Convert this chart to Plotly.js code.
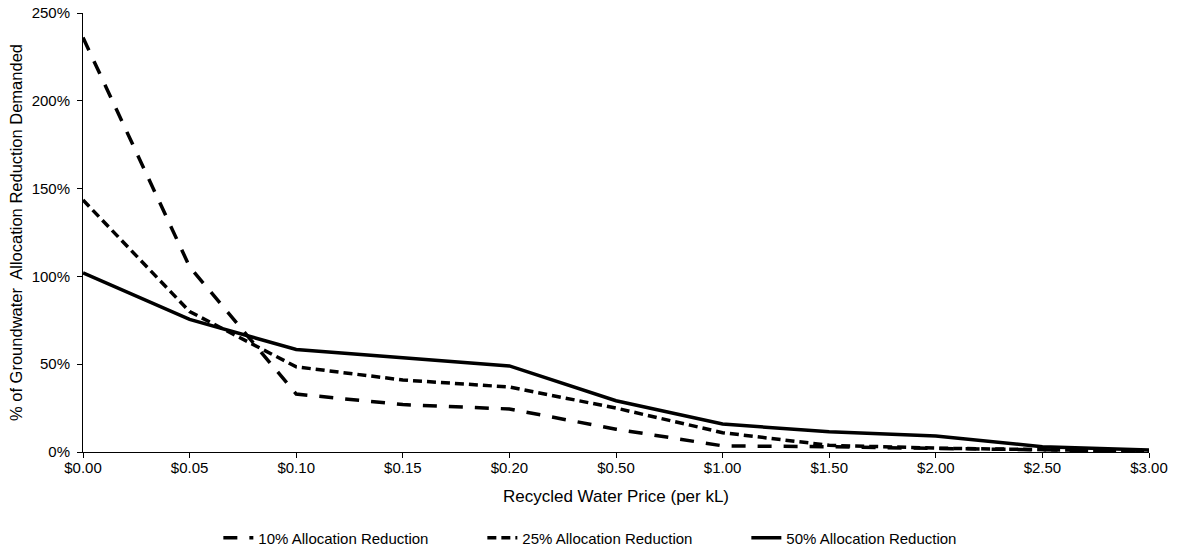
<!DOCTYPE html>
<html>
<head>
<meta charset="utf-8">
<script src="https://cdn.plot.ly/plotly-3.0.1.min.js"></script>
<style>html,body{margin:0;padding:0;background:#fff;}#chart{width:1186px;height:554px;}</style>
</head>
<body>
<div id="chart"></div>
<script>
const prices = ["$0.00","$0.05","$0.10","$0.15","$0.20","$0.50","$1.00","$1.50","$2.00","$2.50","$3.00"];
const red10 = [2.36, 1.055, 0.33, 0.27, 0.245, 0.13, 0.035, 0.03, 0.02, 0.012, 0.005];
const red25 = [1.435, 0.80, 0.485, 0.41, 0.37, 0.25, 0.11, 0.038, 0.022, 0.012, 0.005];
const red50 = [1.02, 0.755, 0.584, 0.535, 0.49, 0.292, 0.159, 0.115, 0.091, 0.03, 0.012];
const names = ["10% Allocation Reduction","25% Allocation Reduction","50% Allocation Reduction"];

const traces = [
  {x: prices, y: red10, name: names[0], type: "scatter", mode: "lines",
   line: {color: "#000", width: 3.5, dash: "14px,12px"}},
  {x: prices, y: red25, name: names[1], type: "scatter", mode: "lines",
   line: {color: "#000", width: 3.5, dash: "9px,5px"}},
  {x: prices, y: red50, name: names[2], type: "scatter", mode: "lines",
   line: {color: "#000", width: 3.5}}
];

const layout = {
  width: 1186, height: 554,
  margin: {l: 83, r: 37, t: 13, b: 102},
  paper_bgcolor: "#fff", plot_bgcolor: "#fff",
  font: {family: "Liberation Sans, Arial, sans-serif", size: 15, color: "#000"},
  showlegend: true,
  legend: {orientation: "h", xref: "container", yref: "container",
           x: 0.518, xanchor: "center", y: 0.029, yanchor: "middle",
           font: {size: 15}, entrywidth: 219, traceorder: "normal"},
  xaxis: {type: "category", range: [0, 10], showgrid: false, zeroline: false, automargin: false,
          showline: true, linecolor: "#000", linewidth: 1,
          ticks: "outside", ticklen: 5, tickcolor: "#000",
          tickfont: {size: 15}, ticklabelstandoff: -3,
          title: {text: "Recycled Water Price (per kL)", font: {size: 17}, standoff: 15}},
  yaxis: {range: [0, 2.5], dtick: 0.5, tickformat: ".0%", showgrid: false, zeroline: false, automargin: false,
          showline: true, linecolor: "#000", linewidth: 1,
          ticks: "outside", ticklen: 5, tickcolor: "#000",
          tickfont: {size: 15}, ticklabelstandoff: 4,
          title: {text: "% of Groundwater&nbsp; Allocation Reduction Demanded", font: {size: 16.5}, standoff: 4}}
};

Plotly.newPlot("chart", traces, layout, {displayModeBar: false, staticPlot: true});
</script>
</body>
</html>
